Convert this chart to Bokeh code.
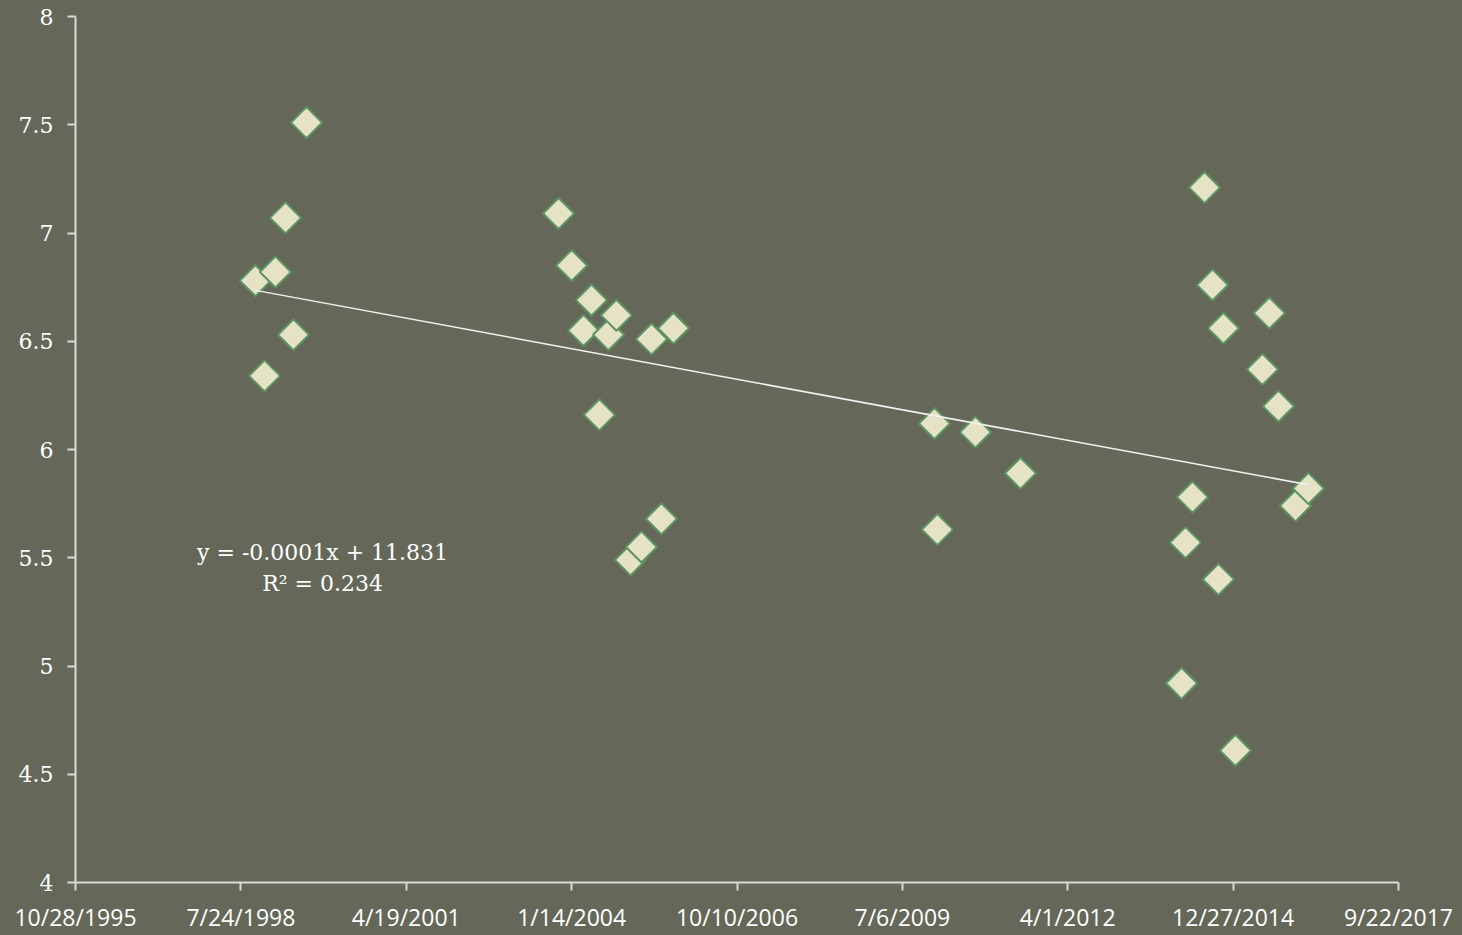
import numpy as np
from bokeh.plotting import figure
from bokeh.models import FixedTicker, Label
from bokeh.embed import file_html
from bokeh.resources import INLINE

# Excel date serials and values
x_serial = [36088, 36143, 36209, 36270, 36318, 36397,
            37921, 38000, 38072, 38120, 38168, 38223, 38271, 38356, 38422, 38483, 38543, 38616,
            40194, 40212, 40442, 40714,
            41688, 41712, 41754, 41827, 41875, 41911, 41941, 42014, 42177, 42219, 42274, 42377, 42455]
y_vals = [6.78, 6.34, 6.82, 7.07, 6.53, 7.51,
          7.09, 6.85, 6.55, 6.69, 6.16, 6.53, 6.62, 5.49, 5.55, 6.51, 5.68, 6.56,
          6.12, 5.63, 6.08, 5.89,
          4.92, 5.57, 5.78, 7.21, 6.76, 5.40, 6.56, 4.61, 6.37, 6.63, 6.20, 5.74, 5.82]

x_ticks = [35000, 36000, 37000, 38000, 39000, 40000, 41000, 42000, 43000]
x_tick_labels = ["10/28/1995", "7/24/1998", "4/19/2001", "1/14/2004", "10/10/2006",
                 "7/6/2009", "4/1/2012", "12/27/2014", "9/22/2017"]
y_ticks = [4, 4.5, 5, 5.5, 6, 6.5, 7, 7.5, 8]
y_tick_labels = ["4", "4.5", "5", "5.5", "6", "6.5", "7", "7.5", "8"]

eq_line1 = "y = -0.0001x + 11.831"
eq_line2 = "R² = 0.234"

BG = "#656858"
AX = "#d9d9d9"

p = figure(width=1462, height=935, output_backend="svg", toolbar_location=None,
           x_range=(35000, 43000), y_range=(4, 8),
           background_fill_color=BG, border_fill_color=BG,
           min_border_left=75, min_border_right=64, min_border_top=16, min_border_bottom=51)
p.outline_line_color = None
p.xgrid.visible = False
p.ygrid.visible = False

for ax in (p.xaxis, p.yaxis):
    ax.axis_line_color = AX
    ax.axis_line_width = 2
    ax.major_tick_line_color = AX
    ax.major_tick_line_width = 2
    ax.major_tick_in = 0
    ax.major_tick_out = 8
    ax.minor_tick_line_color = None
    ax.major_label_text_color = "#ffffff"

p.xaxis.ticker = FixedTicker(ticks=x_ticks)
p.xaxis.major_label_overrides = {t: l for t, l in zip(x_ticks, x_tick_labels)}
p.xaxis.major_label_text_font = "Open Sans"
p.xaxis.major_label_text_font_size = "23px"
p.xaxis.major_label_standoff = 10

p.yaxis.ticker = FixedTicker(ticks=y_ticks)
p.yaxis.major_label_overrides = {t: l for t, l in zip(y_ticks, y_tick_labels)}
p.yaxis.major_label_text_font = "DejaVu Serif"
p.yaxis.major_label_text_font_size = "22px"
p.yaxis.major_label_standoff = 14

# trendline (least squares)
xs = np.array(x_serial, dtype=float)
ys = np.array(y_vals, dtype=float)
m, b = np.polyfit(xs, ys, 1)
tx = [xs.min(), xs.max()]
ty = [m * tx[0] + b, m * tx[1] + b]

p.scatter(x_serial, y_vals, marker="square", size=22, angle=np.pi / 4,
          fill_color="#e6e2c6", line_color="#5b9462", line_width=2)
p.line(tx, ty, line_color="#f2f2f2", line_width=1.5)

p.add_layout(Label(x=36494, y=5.525, text=eq_line1, text_align="center", text_baseline="middle",
                   text_color="#ffffff", text_font="DejaVu Serif", text_font_size="22px"))
p.add_layout(Label(x=36494, y=5.383, text=eq_line2, text_align="center", text_baseline="middle",
                   text_color="#ffffff", text_font="DejaVu Serif", text_font_size="22px"))

html = file_html(p, INLINE)
html = html.replace("<head>", "<head><style>html,body{margin:0;padding:0;overflow:hidden;background:%s;}</style>" % BG, 1)
open("out.html", "w").write(html)
